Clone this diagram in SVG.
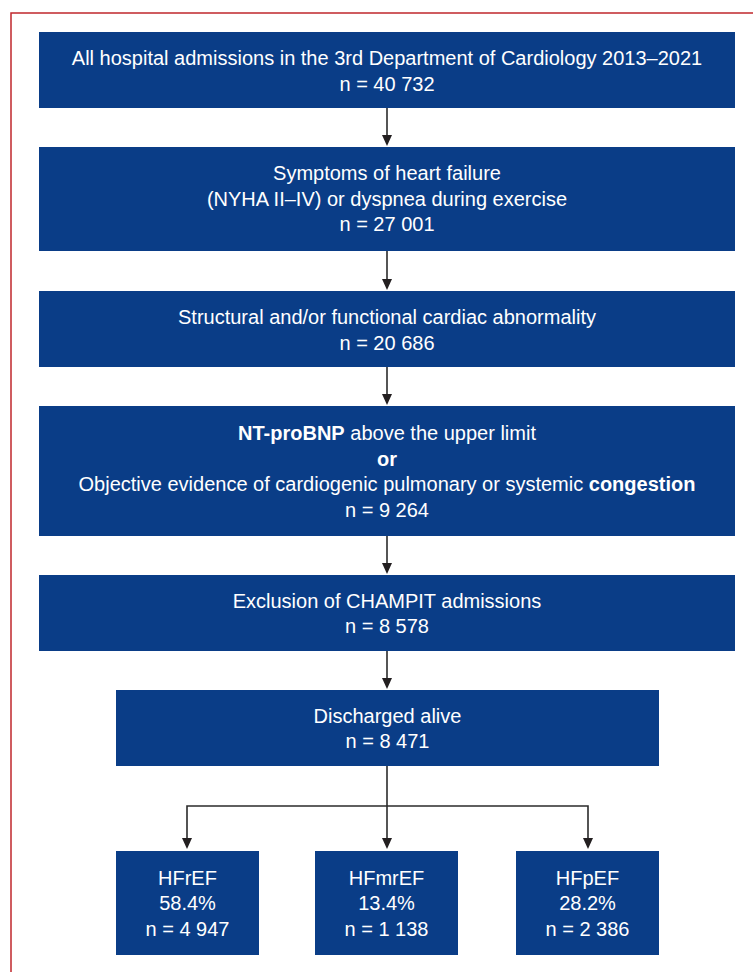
<svg xmlns="http://www.w3.org/2000/svg" width="753" height="972" viewBox="0 0 753 972">
<defs>
<style>
.box{fill:#0a3d87;}
.t{fill:#ffffff;font-family:"Liberation Sans",Arial,sans-serif;font-size:20px;text-anchor:middle;}
.b{font-weight:bold;}
.c{fill:none;stroke:#2b2b2b;stroke-width:1.6;}
.ah{fill:#231f20;}
</style>
</defs>
<rect x="11" y="13" width="800" height="1000" fill="none" stroke="#c0272d" stroke-width="1.5"/>
<g id="connectors">
<line class="c" x1="387" y1="108" x2="387" y2="135"/>
<path class="ah" d="M382,135 L392,135 L387,146 Z"/>
<line class="c" x1="387" y1="251" x2="387" y2="279"/>
<path class="ah" d="M382,279 L392,279 L387,290 Z"/>
<line class="c" x1="387" y1="367" x2="387" y2="394"/>
<path class="ah" d="M382,394 L392,394 L387,405 Z"/>
<line class="c" x1="387" y1="536" x2="387" y2="563"/>
<path class="ah" d="M382,563 L392,563 L387,574 Z"/>
<line class="c" x1="387" y1="651" x2="387" y2="678"/>
<path class="ah" d="M382,678 L392,678 L387,689 Z"/>
<line class="c" x1="387" y1="766" x2="387" y2="838"/>
<path class="ah" d="M382,838 L392,838 L387,849 Z"/>
<path class="c" d="M187,838 L187,806 L588,806 L588,838"/>
<path class="ah" d="M182,838 L192,838 L187,849 Z"/>
<path class="ah" d="M583,838 L593,838 L588,849 Z"/>
</g>
<g id="n1">
<rect class="box" x="39" y="32" width="696" height="76"/>
<text class="t" x="387" y="65">All hospital admissions in the 3rd Department of Cardiology 2013–2021</text>
<text class="t" x="387" y="90.5">n = 40 732</text>
</g>
<g id="n2">
<rect class="box" x="39" y="147" width="696" height="104"/>
<text class="t" x="387" y="180">Symptoms of heart failure</text>
<text class="t" x="387" y="205.5">(NYHA II–IV) or dyspnea during exercise</text>
<text class="t" x="387" y="231">n = 27 001</text>
</g>
<g id="n3">
<rect class="box" x="39" y="291" width="696" height="76"/>
<text class="t" x="387" y="324">Structural and/or functional cardiac abnormality</text>
<text class="t" x="387" y="349.5">n = 20 686</text>
</g>
<g id="n4">
<rect class="box" x="39" y="406" width="696" height="130"/>
<text class="t" x="387" y="440"><tspan class="b">NT-proBNP</tspan> above the upper limit</text>
<text class="t b" x="387" y="465.5">or</text>
<text class="t" x="387" y="491">Objective evidence of cardiogenic pulmonary or systemic <tspan class="b">congestion</tspan></text>
<text class="t" x="387" y="516.5">n = 9 264</text>
</g>
<g id="n5">
<rect class="box" x="39" y="575" width="696" height="76"/>
<text class="t" x="387" y="607.5">Exclusion of CHAMPIT admissions</text>
<text class="t" x="387" y="633">n = 8 578</text>
</g>
<g id="n6">
<rect class="box" x="116" y="690" width="543" height="76"/>
<text class="t" x="387.5" y="722.5">Discharged alive</text>
<text class="t" x="387.5" y="748">n = 8 471</text>
</g>
<g id="n7">
<rect class="box" x="116" y="851" width="143" height="104"/>
<text class="t" x="187.5" y="884.5">HFrEF</text>
<text class="t" x="187.5" y="910">58.4%</text>
<text class="t" x="187.5" y="935.5">n = 4 947</text>
</g>
<g id="n8">
<rect class="box" x="315" y="851" width="143" height="104"/>
<text class="t" x="386.5" y="884.5">HFmrEF</text>
<text class="t" x="386.5" y="910">13.4%</text>
<text class="t" x="386.5" y="935.5">n = 1 138</text>
</g>
<g id="n9">
<rect class="box" x="516" y="851" width="143" height="104"/>
<text class="t" x="587.5" y="884.5">HFpEF</text>
<text class="t" x="587.5" y="910">28.2%</text>
<text class="t" x="587.5" y="935.5">n = 2 386</text>
</g>
</svg>
